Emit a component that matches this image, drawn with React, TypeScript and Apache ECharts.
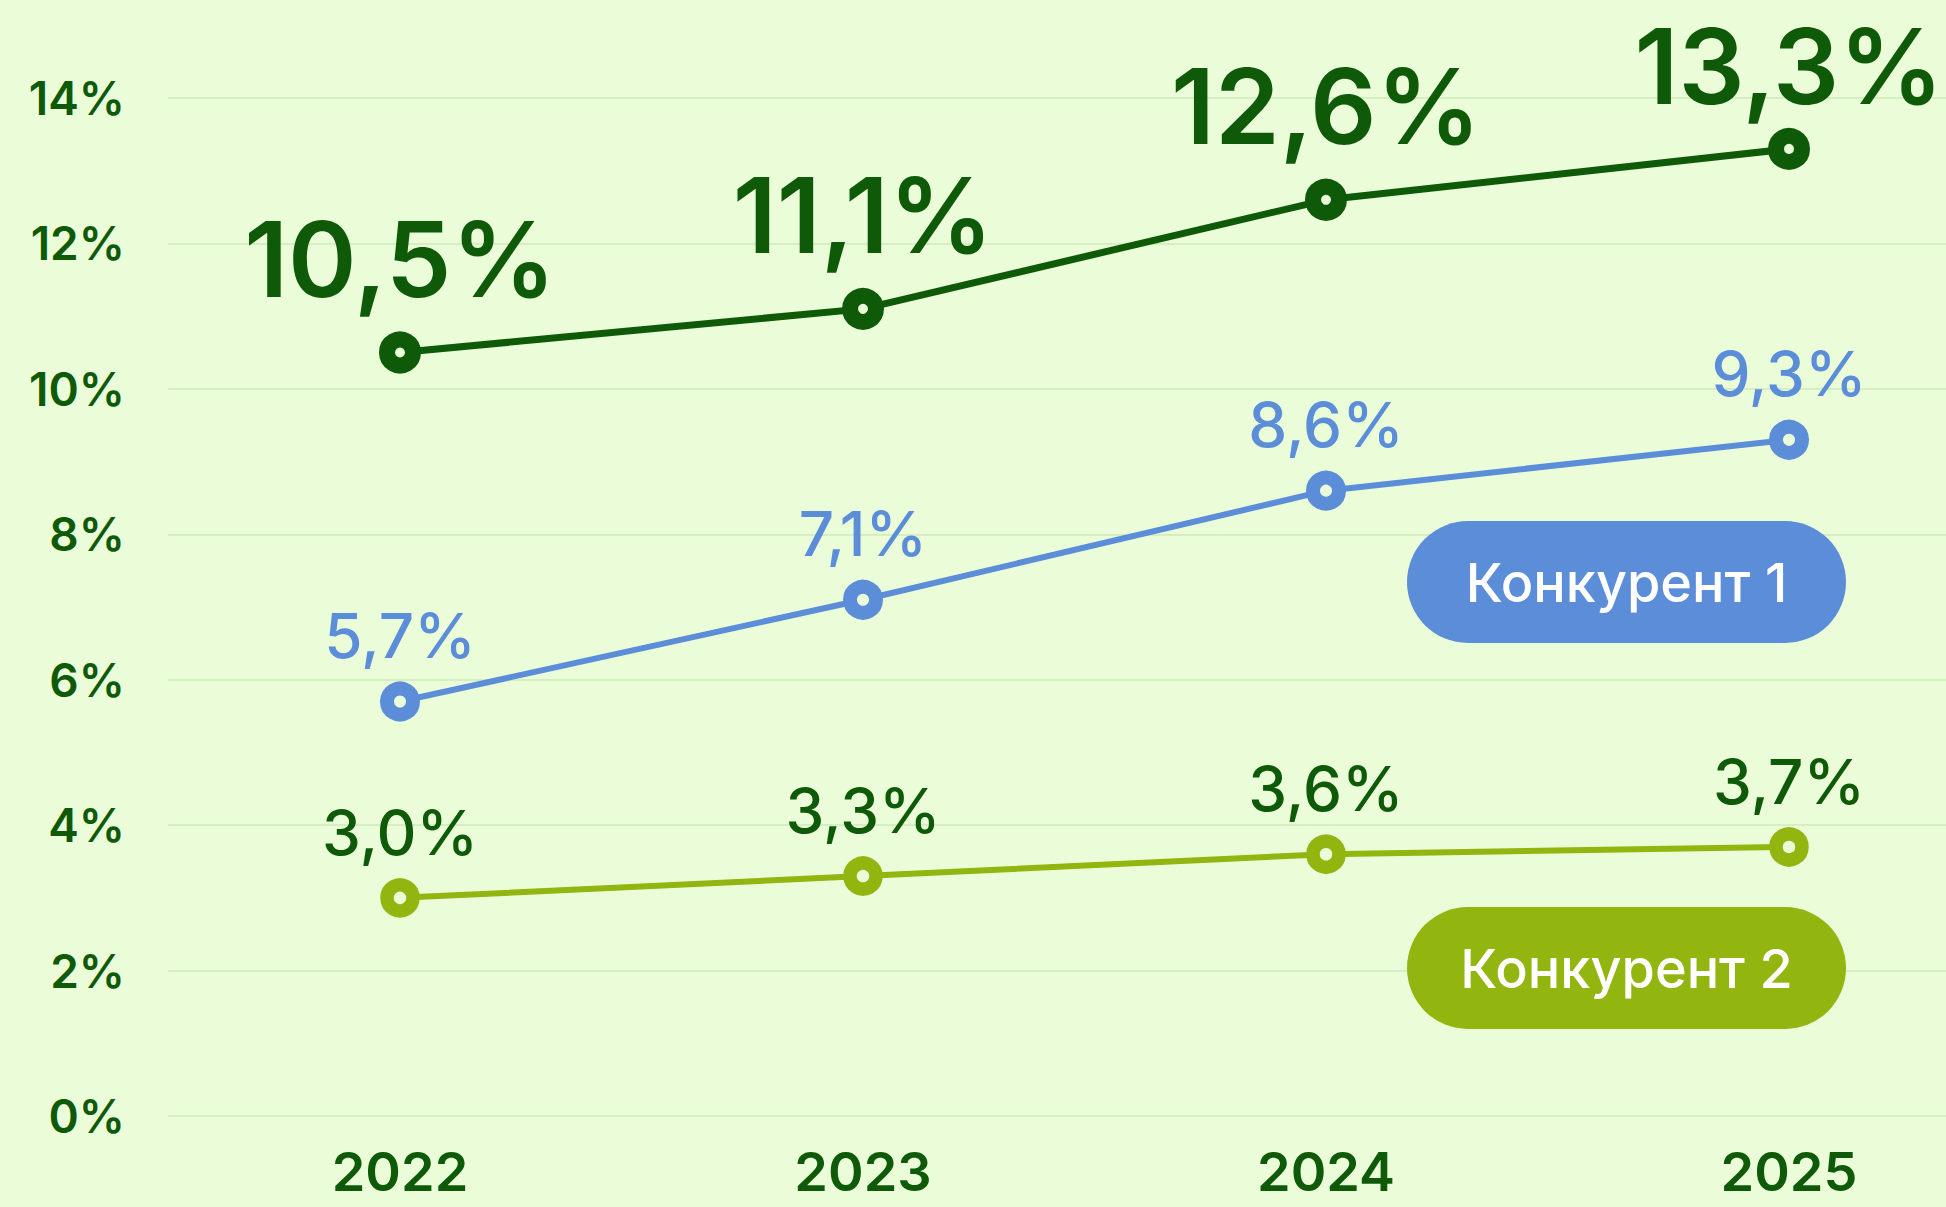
import React, { useEffect, useRef } from "react";
import * as echarts from "echarts";

const years = ["2022", "2023", "2024", "2025"];
const seriesNames = ["Наша компания", "Конкурент 1", "Конкурент 2"];
const ownValues = [10.5, 11.1, 12.6, 13.3];
const rival1Values = [5.7, 7.1, 8.6, 9.3];
const rival2Values = [3.0, 3.3, 3.6, 3.7];
const yTicks = [0, 2, 4, 6, 8, 10, 12, 14];

const BG = "#ebfdd8";
const DARK = "#0f5a08";
const BLUE = "#5b8dd8";
const LIME = "#92b50f";
const GRID = "#d5efc3";
const FONT = "Inter, 'Noto Sans', sans-serif";

const fmt = (v: number) => v.toFixed(1).replace(".", ",") + "%";

export default function App() {
  const ref = useRef<HTMLDivElement>(null);
  useEffect(() => {
    document.body.style.margin = "0";
    document.body.style.background = BG;
    if (!ref.current) return;
    const chart = echarts.init(ref.current, undefined, { renderer: "svg" });

    const mkSeries = (
      name: string,
      data: any[],
      color: string,
      labelColor: string,
      fontSize: number,
      fontWeight: number,
      lineHeight: number,
      lineWidth: number,
      border: number,
      distance: number
    ) => ({
      name,
      type: "line",
      xAxisIndex: 1,
      yAxisIndex: 1,
      data,
      symbol: "circle",
      symbolSize: 26,
      lineStyle: { color, width: lineWidth },
      itemStyle: { color: BG, borderColor: color, borderWidth: border },
      label: {
        show: true,
        position: "top",
        distance,
        color: labelColor,
        fontFamily: FONT,
        fontSize,
        fontWeight,
        lineHeight,
        formatter: (p: any) => fmt(p.value),
      },
      z: 3,
    });

    const pill = (text: string, color: string, top: number) => ({
      type: "group",
      left: 1407,
      top,
      z: 20,
      children: [
        {
          type: "rect",
          z: 20,
          shape: { x: 0, y: 0, width: 439, height: 122, r: 61 },
          style: { fill: color },
        },
        {
          type: "text",
          z: 21,
          x: 219.5,
          y: 61,
          style: {
            text,
            fill: "#ffffff",
            font: `500 54px ${FONT}`,
            align: "center",
            verticalAlign: "middle",
          },
        },
      ],
    });

    const yMin = yTicks[0];
    const yMax = yTicks[yTicks.length - 1];

    // keep the top-most label inside the canvas
    const ownData = ownValues.map((v, i) =>
      i === ownValues.length - 1 ? { value: v, label: { distance: 22 } } : v
    );

    chart.setOption({
      animation: false,
      backgroundColor: BG,
      grid: [
        { left: 168, right: 0, top: 98, height: 1018 },
        { left: 400, width: 1389, top: 98, height: 1018 },
      ],
      xAxis: [
        { type: "value", gridIndex: 0, show: false, min: 0, max: 1 },
        {
          type: "category",
          gridIndex: 1,
          data: years,
          boundaryGap: false,
          axisLine: { show: false },
          axisTick: { show: false },
          splitLine: { show: false },
          axisLabel: {
            color: DARK,
            fontFamily: FONT,
            fontSize: 54,
            fontWeight: 600,
            margin: 35,
            lineHeight: 40,
          },
        },
      ],
      yAxis: [
        {
          type: "value",
          gridIndex: 0,
          min: yMin,
          max: yMax,
          interval: 2,
          axisLine: { show: false },
          axisTick: { show: false },
          splitLine: { lineStyle: { color: GRID, width: 2 } },
          axisLabel: {
            color: DARK,
            fontFamily: FONT,
            fontSize: 46,
            fontWeight: 600,
            margin: 43,
            formatter: (v: number) => v + "%",
          },
        },
        {
          type: "value",
          gridIndex: 1,
          min: yMin,
          max: yMax,
          interval: 2,
          show: false,
          splitLine: { show: false },
        },
      ],
      series: [
        mkSeries(seriesNames[0], ownData, DARK, DARK, 104, 600, 80, 7, 16, 33),
        mkSeries(seriesNames[1], rival1Values, BLUE, BLUE, 62, 500, 62, 6, 14, 15),
        mkSeries(seriesNames[2], rival2Values, LIME, DARK, 62, 500, 62, 6, 13.5, 15),
      ],
      graphic: [pill(seriesNames[1], BLUE, 521), pill(seriesNames[2], LIME, 907)],
    });
    return () => chart.dispose();
  }, []);
  return <div ref={ref} style={{ width: 1946, height: 1207 }} />;
}
